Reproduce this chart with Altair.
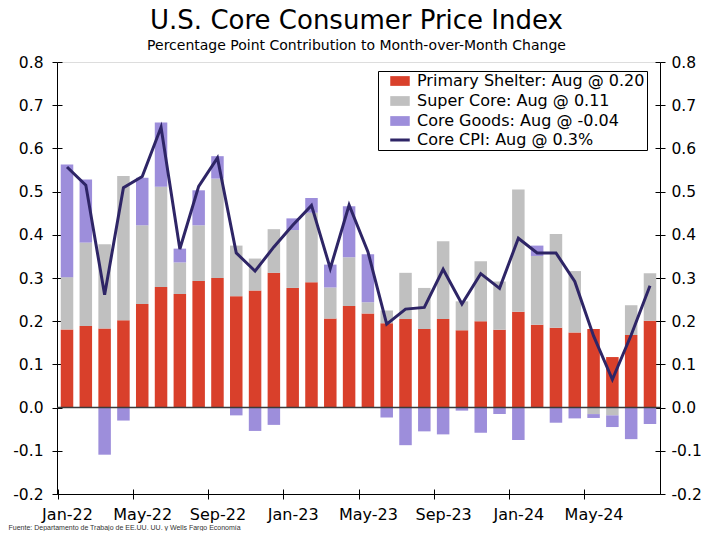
import altair as alt
import pandas as pd

months = ["Jan-22", "Feb-22", "Mar-22", "Apr-22", "May-22", "Jun-22", "Jul-22", "Aug-22",
          "Sep-22", "Oct-22", "Nov-22", "Dec-22", "Jan-23", "Feb-23", "Mar-23", "Apr-23",
          "May-23", "Jun-23", "Jul-23", "Aug-23", "Sep-23", "Oct-23", "Nov-23", "Dec-23",
          "Jan-24", "Feb-24", "Mar-24", "Apr-24", "May-24", "Jun-24", "Jul-24", "Aug-24"]

shelter = [0.181, 0.189, 0.183, 0.202, 0.240, 0.279, 0.263, 0.293, 0.300, 0.258, 0.271, 0.312,
           0.277, 0.290, 0.206, 0.235, 0.218, 0.195, 0.205, 0.182, 0.205, 0.179, 0.200, 0.180,
           0.222, 0.192, 0.185, 0.174, 0.182, 0.117, 0.168, 0.201]

super_core = [0.121, 0.193, 0.195, 0.334, 0.182, 0.232, 0.073, 0.129, 0.230, 0.117, 0.074, 0.101,
              0.134, 0.161, 0.072, 0.113, 0.026, 0.030, 0.107, 0.095, 0.180, 0.067, 0.139, 0.112,
              0.283, 0.159, 0.217, 0.142, -0.015, -0.018, 0.069, 0.110]

core_goods = [0.261, 0.146, -0.109, -0.030, 0.110, 0.149, 0.032, 0.081, 0.052, -0.018, -0.054, -0.040,
              0.027, 0.034, 0.053, 0.118, 0.111, -0.023, -0.087, -0.055, -0.062, -0.007, -0.058, -0.015,
              -0.075, 0.024, -0.035, -0.025, -0.009, -0.027, -0.073, -0.038]

core_cpi = [0.557, 0.515, 0.261, 0.509, 0.535, 0.649, 0.367, 0.512, 0.578, 0.358, 0.316, 0.372,
            0.422, 0.468, 0.322, 0.469, 0.361, 0.193, 0.228, 0.232, 0.320, 0.240, 0.310, 0.276,
            0.392, 0.358, 0.358, 0.292, 0.166, 0.065, 0.168, 0.282]

S_SHELTER = "Primary Shelter: Aug @ 0.20"
S_SUPER = "Super Core: Aug @ 0.11"
S_GOODS = "Core Goods: Aug @ -0.04"
S_CPI = "Core CPI: Aug @ 0.3%"
series_names = [S_SHELTER, S_SUPER, S_GOODS, S_CPI]
series_colors = ["#D9402B", "#C0C0C0", "#9D8EDB", "#2E2566"]

y_ticks = [-0.2, -0.1, 0.0, 0.1, 0.2, 0.3, 0.4, 0.5, 0.6, 0.7, 0.8]
x_ticks = months[::4]

rows = []
for i, m in enumerate(months):
    for k, (name, vals) in enumerate([(S_SHELTER, shelter), (S_SUPER, super_core), (S_GOODS, core_goods)]):
        rows.append({"month": m, "series": name, "value": vals[i], "ord": k})
bars_df = pd.DataFrame(rows)
line_df = pd.DataFrame({"month": months, "cpi": core_cpi})
one_df = pd.DataFrame({"z": [0]})

FONT = "DejaVu Sans"
PLOT_W, PLOT_H = 603, 432
P_IN, P_OUT = 0.335, 0.2
step = PLOT_W / (len(months) - P_IN + 2 * P_OUT)

x_scale = alt.Scale(paddingInner=P_IN, paddingOuter=P_OUT)
y_scale = alt.Scale(domain=[-0.2, 0.8], nice=False, zero=False)

label_expr = "replace(format(datum.value, '.1f'), '\u2212', '-')"

y_axis_left = alt.Axis(orient="left", values=y_ticks, labelExpr=label_expr, title=None, grid=False,
                       domain=True, domainColor="black", domainWidth=1, ticks=True, tickSize=5,
                       tickColor="black", tickWidth=1, labelFont=FONT, labelFontSize=15.5,
                       labelColor="black", labelPadding=9)
y_axis_right = alt.Axis(orient="right", values=y_ticks, labelExpr=label_expr, title=None, grid=False,
                        domain=True, domainColor="black", domainWidth=1, ticks=True, tickSize=5,
                        tickColor="black", tickWidth=1, labelFont=FONT, labelFontSize=15.5,
                        labelColor="black", labelPadding=6)
y_axis_left_in = alt.Axis(orient="left", offset=-5, values=y_ticks, labels=False, title=None,
                          grid=False, domain=False, tickSize=5, tickColor="black", tickWidth=1)
y_axis_right_in = alt.Axis(orient="right", offset=-5, values=y_ticks, labels=False, title=None,
                           grid=False, domain=False, tickSize=5, tickColor="black", tickWidth=1)

x_axis_main = alt.Axis(orient="bottom", values=x_ticks, labelAngle=0, grid=False,
                       domain=True, domainColor="black", domainWidth=1, tickSize=5, tickColor="black",
                       tickWidth=1, bandPosition=0.5, tickOffset=-step / 2, labelOffset=step / 2,
                       labelFont=FONT, labelFontSize=16, labelColor="black", labelPadding=7,
                       title="Fuente: Departamento de Trabajo de EE.UU. UU. y Wells Fargo Economía",
                       titleFont="Liberation Sans", titleFontSize=7, titleFontWeight="normal",
                       titleColor="#333333", titleAnchor="start", titleAlign="left",
                       titleX=-49, titleY=35, titleBaseline="alphabetic")
x_axis_in = alt.Axis(orient="bottom", offset=-5, values=x_ticks, labels=False, title=None, grid=False,
                     domain=False, tickSize=5, tickColor="black", tickWidth=1, bandPosition=0.5,
                     tickOffset=-step / 2)

is_cpi = f"datum.value === '{S_CPI}'"
legend = alt.Legend(
    title=None, orient="none", legendX=321, legendY=9, padding=2,
    strokeColor="black", fillColor="white",
    labelFont=FONT, labelFontSize=16, labelColor="black", labelLimit=400,
    symbolSize=169, symbolStrokeWidth=3, rowPadding=-2,
    symbolOffset=12, labelOffset=9,
    symbolType=alt.ExprRef(expr=f"{is_cpi} ? 'M-1.5,0H1.5' : 'M-1.5,-0.75H1.5V0.75H-1.5Z'"),
    symbolStrokeColor=alt.ExprRef(expr=f"{is_cpi} ? '#2E2566' : 'transparent'"),
)

bars = alt.Chart(bars_df).mark_bar().encode(
    x=alt.X("month:N", sort=months, scale=x_scale, axis=x_axis_main),
    y=alt.Y("value:Q", stack="zero", scale=y_scale, axis=y_axis_left),
    color=alt.Color("series:N", scale=alt.Scale(domain=series_names, range=series_colors), legend=legend),
    order=alt.Order("ord:Q", sort="ascending"),
)

zero = alt.Chart(one_df).mark_rule(color="#3a3a3a", strokeWidth=1.5).encode(
    y=alt.YDatum(0, scale=y_scale, axis=y_axis_left_in)
)

line = alt.Chart(line_df).mark_line(color="#2E2566", strokeWidth=3).encode(
    x=alt.X("month:N", sort=months, scale=x_scale, axis=x_axis_in),
    y=alt.Y("cpi:Q", scale=y_scale, axis=y_axis_right),
)

right_ticks = alt.Chart(one_df).mark_rule(strokeOpacity=0).encode(
    y=alt.YDatum(0, scale=y_scale, axis=y_axis_right_in)
)

chart = alt.layer(bars, zero, line, right_ticks).resolve_axis(
    x="independent", y="independent"
).properties(
    width=PLOT_W, height=PLOT_H,
    autosize=alt.AutoSizeParams(type="none"),
    padding={"left": 49, "top": 54, "right": 41, "bottom": 37},
    title=alt.TitleParams(
        text="U.S. Core Consumer Price Index",
        subtitle="Percentage Point Contribution to Month-over-Month Change",
        font=FONT, fontSize=26, fontWeight="normal", color="black",
        subtitleFont=FONT, subtitleFontSize=14, subtitleColor="black",
        anchor="middle", frame="group", offset=2, subtitlePadding=5, dx=-2,
    ),
).configure_view(
    stroke="black", strokeWidth=1
).configure(
    background="white", font=FONT
)

chart.save("out.html", embed_options={"renderer": "svg", "actions": False})
